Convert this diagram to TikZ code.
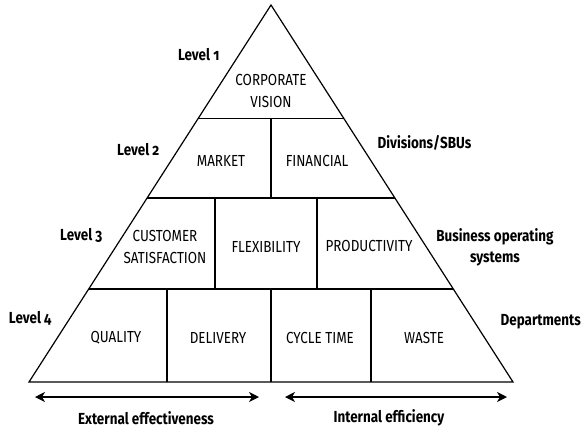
\documentclass[tikz,border=0pt]{standalone}
\usepackage{fontspec}
\setmainfont{Fira Sans}[FakeStretch=0.84,Numbers=OldStyle]
\usetikzlibrary{calc,arrows.meta}
\tikzset{
	cell/.style={align=center,inner sep=0pt},
	lvl/.style={font=\fontsize{16}{21}\selectfont\bfseries,align=center,inner sep=0pt},
	span/.style={{Stealth[length=10pt,width=10pt,inset=3pt]}-{Stealth[length=10pt,width=10pt,inset=3pt]}}
}
\begin{document}
\begin{tikzpicture}[x=1pt,y=-1pt,line width=1.2pt,font=\fontsize{16}{22}\selectfont]
	\useasboundingbox (0,0) rectangle (585,431);
	\path
	(271,5) coordinate (T)
	(29,382) coordinate (BL)
	(513,382) coordinate (BR);
	\draw[line join=miter] (T)--(BL)--(BR)--cycle;
	\foreach \r/\t in {1/0.3,2/0.512,3/0.7533}
		\draw ($(T)!\t!(BL)$) coordinate (L\r) -- ($(T)!\t!(BR)$) coordinate (R\r);
	\foreach \x/\a/\b in {271/118/198,215/198/289,317/198/289,167/289/382,271/289/382,371/289/382}
		\draw (\x,\a)--(\x,\b);
	% boxes
	\foreach \n/\x/\y/\s in {vision/271/91/{CORPORATE\\VISION},market/221/161/MARKET,financial/317/161/FINANCIAL,
		customer/165/247/{CUSTOMER\\SATISFACTION},flex/266/247/FLEXIBILITY,prod/369/246/PRODUCTIVITY,
		quality/116/338/QUALITY,delivery/218/338/DELIVERY,cycle/320/338/CYCLE TIME,waste/424/338/WASTE}
		\node[cell] (\n) at (\x,\y) {\s};
	% levels
	\foreach \n/\x/\y/\s in {lvA/220/55/Level 1,lvB/160/150/Level 2,lvC/103/235/Level 3,lvD/52/318/Level 4}
		\node[lvl,anchor=east] (\n) at (\x,\y) {\s};
	\node[lvl,anchor=west] (sbu) at (377,143) {Divisions/SBUs};
	\node[lvl] (bos) at (495,247) {Business operating\\systems};
	\node[lvl,anchor=west] (dept) at (500,322) {Departments};
	\path
	(35,397) coordinate (e1)
	(259,397) coordinate (e2)
	(285,397) coordinate (i1)
	(507,397) coordinate (i2);
	\draw[span] (e1)--(e2);
	\draw[span] (i1)--(i2);
	\node[lvl] (ext) at (146,418) {External effectiveness};
	\node[lvl] (int) at (389,418) {Internal efficiency};
\end{tikzpicture}
\end{document}
